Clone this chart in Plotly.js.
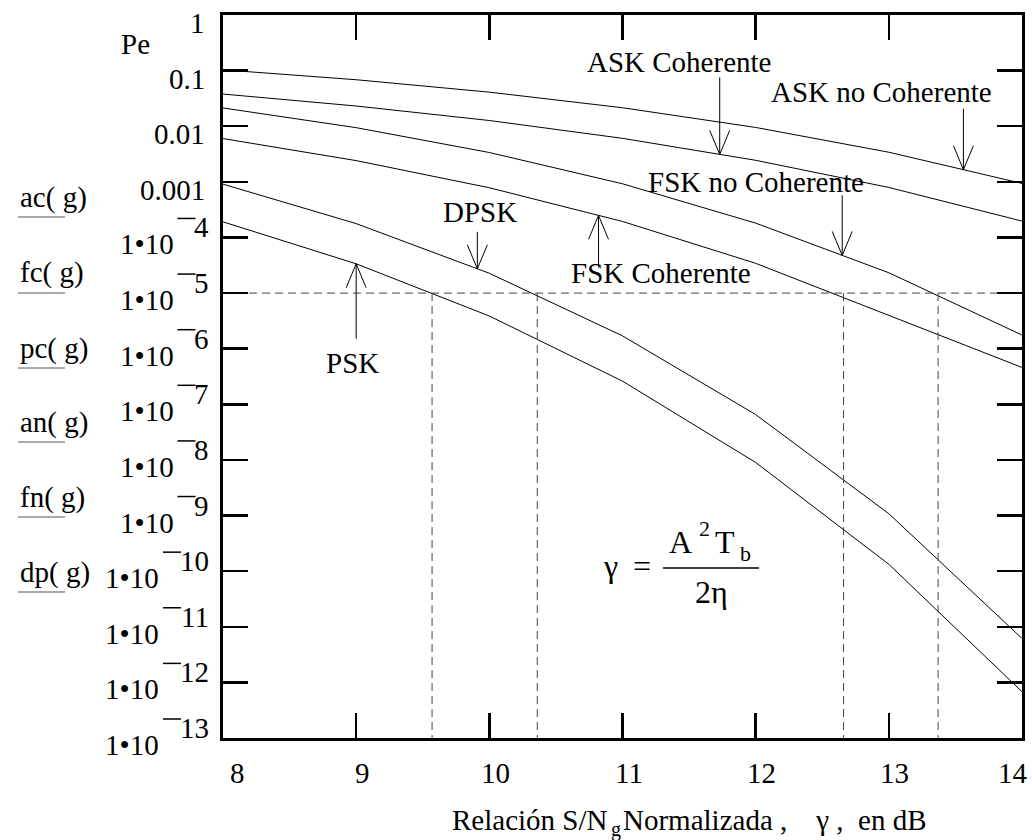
<!DOCTYPE html>
<html>
<head>
<meta charset="utf-8">
<script src="https://cdn.plot.ly/plotly-3.0.1.min.js"></script>
<style>html,body{margin:0;padding:0;background:#fff}</style>
</head>
<body>
<div id="chart" style="width:1032px;height:840px"></div>
<script>
// ---------- data ----------
const snrDb = [8, 9, 10, 11, 12, 13, 14];
const askCoherente   = [0.0379, 0.0231, 0.01267, 6.06e-3, 2.44e-3, 7.93e-4, 1.97e-4];   // ac(g)
const fskCoherente   = [6.0e-3, 2.41e-3, 7.83e-4, 1.94e-4, 3.43e-5, 3.97e-6, 4.6e-7];    // fc(g)
const pskCoherente   = [1.91e-4, 3.36e-5, 3.87e-6, 2.61e-7, 9.0e-9, 1.33e-10, 6.8e-13];  // pc(g)
const askNoCoherente = [0.1033, 0.0686, 0.0410, 0.0215, 9.51e-3, 3.41e-3, 9.37e-4];      // an(g)
const fskNoCoherente = [0.0213, 9.42e-3, 3.37e-3, 9.23e-4, 1.81e-4, 2.32e-5, 1.76e-6];   // fn(g)
const dpsk           = [9.09e-4, 1.775e-4, 2.27e-5, 1.70e-6, 6.54e-8, 1.08e-9, 6.17e-12]; // dp(g)
const pThreshold   = 1e-5;
const thresholdSnr = [9.57, 10.36, 12.66, 13.37];
const xTicks   = [8, 9, 10, 11, 12, 13, 14];
const yTickExp = [0, -1, -2, -3, -4, -5, -6, -7, -8, -9, -10, -11, -12, -13];
const yPlainText = ['1', '0.1', '0.01', '0.001'];
const sideLabels = ['ac( g)', 'fc( g)', 'pc( g)', 'an( g)', 'fn( g)', 'dp( g)'];
const curveLabels = ['ASK Coherente', 'ASK no Coherente', 'FSK no Coherente', 'FSK Coherente', 'DPSK', 'PSK'];
const arrowSnr = [11.73, 13.56, 12.65, 9.91, 10.82, 9.0];

// ---------- helpers ----------
const SERIF = 'Liberation Serif';
const FS = 29;
const L = 223, T = 15, W = 799, H = 723;
const pX = px => (px - L) / W;
const pY = py => (T + H - py) / H;
const pxPerDecade = H / (yTickExp[0] - yTickExp[yTickExp.length - 1]);

function txt(px, py, text, o) {
  o = o || {};
  return {xref: 'paper', yref: 'paper', x: pX(px), y: pY(py), text: text, showarrow: false,
          xanchor: o.xanchor || 'center', yanchor: o.yanchor || 'middle',
          font: {family: SERIF, size: o.size || FS, color: '#000'}};
}
function logInterp(xs, ys, x) {
  for (let i = 0; i < xs.length - 1; i++) {
    if (x >= xs[i] && x <= xs[i + 1]) {
      const f = (x - xs[i]) / (xs[i + 1] - xs[i]);
      return Math.pow(10, Math.log10(ys[i]) + f * (Math.log10(ys[i + 1]) - Math.log10(ys[i])));
    }
  }
  return ys[ys.length - 1];
}
function arrow(x, y, dir, len) {
  const s = dir === 'down' ? 1 : -1;
  const yAt = px => y * Math.pow(10, s * px / pxPerDecade);
  const base = {type: 'line', xref: 'x', yref: 'y', xsizemode: 'pixel', xanchor: x,
                line: {color: '#000', width: 1}};
  return [
    Object.assign({}, base, {x0: 0, x1: 0, y0: y, y1: yAt(len)}),
    Object.assign({}, base, {x0: 0, x1: -10, y0: y, y1: yAt(24)}),
    Object.assign({}, base, {x0: 0, x1: 10, y0: y, y1: yAt(24)})
  ];
}

// ---------- traces ----------
const curveLine = {color: '#000', width: 1};
const series = [askCoherente, fskCoherente, pskCoherente, askNoCoherente, fskNoCoherente, dpsk];
const traces = series.map((s, i) => ({
  x: snrDb, y: s, type: 'scatter', mode: 'lines', name: sideLabels[i],
  line: curveLine, hoverinfo: 'skip'
}));
const dashLine = {color: '#444', width: 1, dash: '8px,5px'};
traces.push({x: [xTicks[0], xTicks[xTicks.length - 1]], y: [pThreshold, pThreshold],
             type: 'scatter', mode: 'lines', line: dashLine, hoverinfo: 'skip'});
const yBottom = Math.pow(10, yTickExp[yTickExp.length - 1]);
thresholdSnr.forEach(t => traces.push({x: [t, t], y: [pThreshold, yBottom], type: 'scatter',
  mode: 'lines', line: dashLine, hoverinfo: 'skip'}));

// ---------- annotations ----------
const ann = [];
const shapes = [];

// y tick labels
yTickExp.forEach((e, i) => {
  if (e >= -3) {
    ann.push({xref: 'paper', x: 0, xshift: -16, xanchor: 'right', yref: 'y', y: e, yshift: -8,
              yanchor: 'middle', text: yPlainText[i], showarrow: false,
              font: {family: SERIF, size: FS, color: '#000'}});
  } else {
    const digits = String(-e);
    const digitsLeft = 211 - digits.length * 14.5;
    const dashLeft = digitsLeft - 19;
    ann.push({xref: 'paper', x: 0, xshift: 211 - L, xanchor: 'right', yref: 'y', y: e, yshift: 10,
              yanchor: 'middle', text: digits, showarrow: false,
              font: {family: SERIF, size: FS, color: '#000'}});
    ann.push({xref: 'paper', x: 0, xshift: dashLeft - 2 - L, xanchor: 'right', yref: 'y', y: e, yshift: -7,
              yanchor: 'middle', text: '1\u202210', showarrow: false,
              font: {family: SERIF, size: FS, color: '#000'}});
    const yp = (e - yTickExp[yTickExp.length - 1]) / (yTickExp[0] - yTickExp[yTickExp.length - 1]) + 19 / H;
    shapes.push({type: 'line', xref: 'paper', yref: 'paper', x0: pX(dashLeft), x1: pX(dashLeft + 18),
                 y0: yp, y1: yp, line: {color: '#000', width: 1.5}});
  }
});

// x tick labels
xTicks.forEach((v, i) => {
  const sh = i === 0 ? 14 : (i === xTicks.length - 1 ? -9 : 6);
  ann.push({xref: 'x', x: v, xshift: sh, yref: 'paper', y: 0, yshift: -35, yanchor: 'middle',
            xanchor: 'center', text: String(v), showarrow: false,
            font: {family: SERIF, size: FS, color: '#000'}});
});

// "Pe"
ann.push(txt(135, 44, 'Pe'));

// side labels with underline
const sideY = [197, 273, 348, 422, 497, 572];
sideLabels.forEach((s, i) => {
  ann.push(txt(18, sideY[i], s, {xanchor: 'left'}));
  shapes.push({type: 'line', xref: 'paper', yref: 'paper', x0: pX(18), x1: pX(65),
               y0: pY(sideY[i] + 20), y1: pY(sideY[i] + 20), line: {color: '#555', width: 1}});
});

// curve labels
const curveLabelPos = [[679, 62], [881, 92], [756, 182], [661, 273], [480, 212], [352, 363]];
curveLabels.forEach((s, i) => ann.push(txt(curveLabelPos[i][0], curveLabelPos[i][1], s)));

// arrows (tips on the curves)
const arrowSeries = [askCoherente, askNoCoherente, fskNoCoherente, dpsk, fskCoherente, pskCoherente];
const arrowDir = ['down', 'down', 'down', 'down', 'up', 'up'];
const arrowLen = [77, 61, 60, 37, 52, 75];
arrowSnr.forEach((x, i) => {
  const y = logInterp(snrDb, arrowSeries[i], x);
  arrow(x, y, arrowDir[i], arrowLen[i]).forEach(s => shapes.push(s));
});

// formula  gamma = A^2 T_b / (2 eta)
const FF = 32, FSMALL = 22;
ann.push(txt(610, 566, '\u03b3', {size: FF}));
ann.push(txt(642, 566, '=', {size: FF}));
ann.push(txt(680, 542, 'A', {size: FF}));
ann.push(txt(704, 528, '2', {size: FSMALL}));
ann.push(txt(725, 542, 'T', {size: FF}));
ann.push(txt(745, 553, 'b', {size: FSMALL}));
ann.push(txt(711, 592, '2\u03b7', {size: FF}));
shapes.push({type: 'line', xref: 'paper', yref: 'paper', x0: pX(663), x1: pX(759),
             y0: pY(568), y1: pY(568), line: {color: '#000', width: 1.3}});

// x title (with the small "g" drawn under the gap)
ann.push(txt(610, 820, 'Relaci\u00f3n S/N', {xanchor: 'right'}));
ann.push(txt(616, 829, 'g', {size: 20}));
ann.push(txt(621, 820, 'Normalizada ,\u00a0\u00a0\u00a0 \u03b3 ,\u00a0 en dB', {xanchor: 'left'}));

const axisCommon = {showline: true, linewidth: 3, linecolor: '#000', mirror: 'ticks',
  ticks: 'inside', ticklen: 25, tickwidth: 2.5, tickcolor: '#000', showgrid: false,
  zeroline: false, showticklabels: false, fixedrange: true};

const layout = {
  width: 1032, height: 840,
  margin: {l: L, r: 1032 - L - W, t: T, b: 840 - T - H},
  paper_bgcolor: '#fff', plot_bgcolor: '#fff', showlegend: false,
  font: {family: SERIF, color: '#000'},
  xaxis: Object.assign({}, axisCommon, {range: [xTicks[0], xTicks[xTicks.length - 1]], tickvals: xTicks}),
  yaxis: Object.assign({}, axisCommon, {type: 'log', range: [yTickExp[yTickExp.length - 1], yTickExp[0]],
    tickvals: yTickExp.map(e => Math.pow(10, e))}),
  annotations: ann,
  shapes: shapes
};

Plotly.newPlot('chart', traces, layout, {displayModeBar: false, staticPlot: true});
</script>
</body>
</html>
